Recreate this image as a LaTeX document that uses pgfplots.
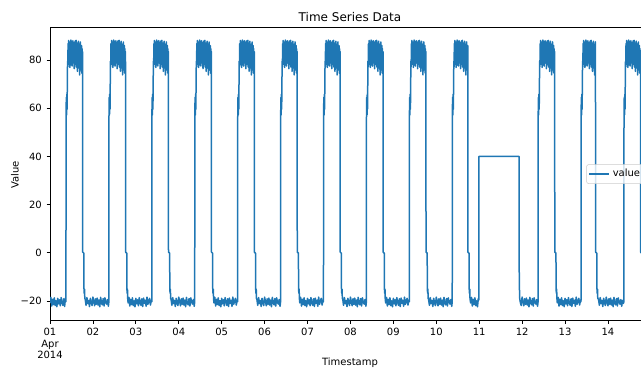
\documentclass[border=0pt]{standalone}
\usepackage{fontspec}
\setmainfont{DejaVu Sans}
\usepackage{pgfplots}
\pgfplotsset{compat=1.18}
\definecolor{c0}{RGB}{31,119,180}
\begin{document}
\begin{tikzpicture}
\begin{axis}[
  at={(0,0)}, anchor=south west,
  scale only axis, width=450pt, height=219.75pt,
  xmin=0, xmax=13.98, ymin=-27.9, ymax=93.7,
  axis line style={line width=0.6pt},
  tick align=outside, major tick length=2.625pt,
  every tick/.style={black, line width=0.6pt},
  xtick pos=bottom, ytick pos=left,
  xtick={0,1,2,3,4,5,6,7,8,9,10,11,12,13},
  xticklabels={{01\\Apr\\2014},02,03,04,05,06,07,08,09,10,11,12,13,14},
  xticklabel style={align=center, font=\fontsize{7.5}{8.6}\selectfont},
  ytick={-20,0,20,40,60,80},
  yticklabels={−20,0,20,40,60,80},
  yticklabel style={font=\fontsize{7.5}{9}\selectfont},
  title={Time Series Data},
  title style={font=\fontsize{9}{11}\selectfont, yshift=-5.25pt},
  xlabel={Timestamp},
  xlabel style={at={(axis description cs:0.5,-0.1468)}, anchor=center, font=\fontsize{7.5}{9}\selectfont},
  ylabel={Value},
  ylabel style={at={(axis description cs:-0.0583,0.495)}, anchor=center, font=\fontsize{7.5}{9}\selectfont},
  legend style={at={(axis description cs:0.9917,0.498)}, anchor=east, draw=black!20, rounded corners=1.5pt, fill=white, fill opacity=0.8, text opacity=1, font=\fontsize{7.5}{9}\selectfont, inner sep=1.5pt},
  legend image code/.code={\draw[#1] (0pt,0pt) -- (15pt,0pt);},
]
\addplot[c0, line width=1.125pt, line join=round, mark=none] coordinates {
(0,-20.8)(0.02,-18.5)(0.04,-22.1)(0.06,-19.3)(0.08,-21.5)(0.10,-18.7)(0.12,-21.9)(0.14,-19.9)(0.16,-22.4)(0.18,-18.9)(0.20,-21.2)(0.22,-19.5)(0.24,-22.0)(0.26,-18.6)(0.28,-20.6)(0.30,-21.8)(0.32,-19.1)(0.34,-22.3)(0.36,-18.8)
(0.372,-20.3)(0.374,56.0)(0.380,64.5)(0.386,57.2)(0.392,65.8)(0.398,59.6)(0.404,70.5)(0.409,79.5)
(0.415,77.2)(0.421,86.8)(0.428,79.5)(0.434,88.1)(0.440,78.3)(0.446,85.9)(0.453,80.7)(0.459,87.4)(0.465,76.9)(0.471,86.2)(0.478,79.8)(0.484,88.3)(0.490,78.0)(0.496,85.4)(0.503,81.2)(0.509,87.7)(0.515,77.5)(0.521,86.5)(0.528,79.1)(0.534,88.0)(0.540,80.3)(0.546,85.1)(0.553,78.6)(0.559,87.2)(0.565,76.4)(0.571,86.9)(0.578,80.9)(0.584,87.9)(0.590,78.2)(0.596,85.7)(0.603,79.4)(0.609,88.2)(0.615,77.1)(0.621,86.3)(0.628,80.1)(0.634,87.0)(0.640,75.3)(0.646,85.6)(0.653,78.8)(0.659,87.8)(0.665,76.7)(0.671,86.1)(0.678,79.9)(0.684,84.9)(0.690,73.8)(0.696,86.7)(0.703,78.5)(0.709,87.5)(0.715,75.9)(0.721,85.3)(0.728,77.6)(0.734,86.0)(0.740,74.6)(0.746,84.7)(0.753,78.1)(0.759,83.5)
(0.761,0.3)(0.789,-0.2)(0.791,-14.6)(0.798,-16.8)(0.805,-15.1)(0.811,-19.0)
(0.82,-19.2)(0.84,-21.8)(0.86,-18.6)(0.88,-21.1)(0.90,-19.8)(0.92,-22.3)(0.94,-18.9)(0.96,-20.7)(0.98,-21.9)(1.00,-18.4)(1.02,-20.2)(1.04,-22.0)(1.06,-19.1)(1.08,-21.4)(1.10,-18.8)(1.12,-21.7)(1.14,-19.6)(1.16,-22.4)(1.18,-18.5)(1.20,-20.9)(1.22,-21.6)(1.24,-19.0)(1.26,-22.1)(1.28,-18.7)(1.30,-20.5)(1.32,-21.3)(1.34,-19.4)(1.36,-22.2)
(1.372,-20.3)(1.374,56.0)(1.380,64.5)(1.386,57.2)(1.392,65.8)(1.398,59.6)(1.404,70.5)(1.409,79.5)
(1.415,77.2)(1.421,86.8)(1.428,79.5)(1.434,88.1)(1.440,78.3)(1.446,85.9)(1.453,80.7)(1.459,87.4)(1.465,76.9)(1.471,86.2)(1.478,79.8)(1.484,88.3)(1.490,78.0)(1.496,85.4)(1.503,81.2)(1.509,87.7)(1.515,77.5)(1.521,86.5)(1.528,79.1)(1.534,88.0)(1.540,80.3)(1.546,85.1)(1.553,78.6)(1.559,87.2)(1.565,76.4)(1.571,86.9)(1.578,80.9)(1.584,87.9)(1.590,78.2)(1.596,85.7)(1.603,79.4)(1.609,88.2)(1.615,77.1)(1.621,86.3)(1.628,80.1)(1.634,87.0)(1.640,75.3)(1.646,85.6)(1.653,78.8)(1.659,87.8)(1.665,76.7)(1.671,86.1)(1.678,79.9)(1.684,84.9)(1.690,73.8)(1.696,86.7)(1.703,78.5)(1.709,87.5)(1.715,75.9)(1.721,85.3)(1.728,77.6)(1.734,86.0)(1.740,74.6)(1.746,84.7)(1.753,78.1)(1.759,83.5)
(1.761,0.3)(1.789,-0.2)(1.791,-14.6)(1.798,-16.8)(1.805,-15.1)(1.811,-19.0)
(1.82,-20.8)(1.84,-18.5)(1.86,-22.1)(1.88,-19.3)(1.90,-21.5)(1.92,-18.7)(1.94,-21.9)(1.96,-19.9)(1.98,-22.4)(2.00,-18.9)(2.02,-21.2)(2.04,-19.5)(2.06,-22.0)(2.08,-18.6)(2.10,-20.6)(2.12,-21.8)(2.14,-19.1)(2.16,-22.3)(2.18,-18.8)(2.20,-21.0)(2.22,-19.7)(2.24,-22.2)(2.26,-18.4)(2.28,-21.4)(2.30,-20.1)(2.32,-18.9)(2.34,-21.7)(2.36,-19.6)
(2.372,-20.3)(2.374,56.0)(2.380,64.5)(2.386,57.2)(2.392,65.8)(2.398,59.6)(2.404,70.5)(2.409,79.5)
(2.415,77.2)(2.421,86.8)(2.428,79.5)(2.434,88.1)(2.440,78.3)(2.446,85.9)(2.453,80.7)(2.459,87.4)(2.465,76.9)(2.471,86.2)(2.478,79.8)(2.484,88.3)(2.490,78.0)(2.496,85.4)(2.503,81.2)(2.509,87.7)(2.515,77.5)(2.521,86.5)(2.528,79.1)(2.534,88.0)(2.540,80.3)(2.546,85.1)(2.553,78.6)(2.559,87.2)(2.565,76.4)(2.571,86.9)(2.578,80.9)(2.584,87.9)(2.590,78.2)(2.596,85.7)(2.603,79.4)(2.609,88.2)(2.615,77.1)(2.621,86.3)(2.628,80.1)(2.634,87.0)(2.640,75.3)(2.646,85.6)(2.653,78.8)(2.659,87.8)(2.665,76.7)(2.671,86.1)(2.678,79.9)(2.684,84.9)(2.690,73.8)(2.696,86.7)(2.703,78.5)(2.709,87.5)(2.715,75.9)(2.721,85.3)(2.728,77.6)(2.734,86.0)(2.740,74.6)(2.746,84.7)(2.753,78.1)(2.759,83.5)
(2.761,0.3)(2.789,-0.2)(2.791,-14.6)(2.798,-16.8)(2.805,-15.1)(2.811,-19.0)
(2.82,-19.2)(2.84,-21.8)(2.86,-18.6)(2.88,-21.1)(2.90,-19.8)(2.92,-22.3)(2.94,-18.9)(2.96,-20.7)(2.98,-21.9)(3.00,-18.4)(3.02,-20.2)(3.04,-22.0)(3.06,-19.1)(3.08,-21.4)(3.10,-18.8)(3.12,-21.7)(3.14,-19.6)(3.16,-22.4)(3.18,-18.5)(3.20,-20.9)(3.22,-21.6)(3.24,-19.0)(3.26,-22.1)(3.28,-18.7)(3.30,-20.5)(3.32,-21.3)(3.34,-19.4)(3.36,-22.2)
(3.372,-20.3)(3.374,56.0)(3.380,64.5)(3.386,57.2)(3.392,65.8)(3.398,59.6)(3.404,70.5)(3.409,79.5)
(3.415,77.2)(3.421,86.8)(3.428,79.5)(3.434,88.1)(3.440,78.3)(3.446,85.9)(3.453,80.7)(3.459,87.4)(3.465,76.9)(3.471,86.2)(3.478,79.8)(3.484,88.3)(3.490,78.0)(3.496,85.4)(3.503,81.2)(3.509,87.7)(3.515,77.5)(3.521,86.5)(3.528,79.1)(3.534,88.0)(3.540,80.3)(3.546,85.1)(3.553,78.6)(3.559,87.2)(3.565,76.4)(3.571,86.9)(3.578,80.9)(3.584,87.9)(3.590,78.2)(3.596,85.7)(3.603,79.4)(3.609,88.2)(3.615,77.1)(3.621,86.3)(3.628,80.1)(3.634,87.0)(3.640,75.3)(3.646,85.6)(3.653,78.8)(3.659,87.8)(3.665,76.7)(3.671,86.1)(3.678,79.9)(3.684,84.9)(3.690,73.8)(3.696,86.7)(3.703,78.5)(3.709,87.5)(3.715,75.9)(3.721,85.3)(3.728,77.6)(3.734,86.0)(3.740,74.6)(3.746,84.7)(3.753,78.1)(3.759,83.5)
(3.761,0.3)(3.789,-0.2)(3.791,-14.6)(3.798,-16.8)(3.805,-15.1)(3.811,-19.0)
(3.82,-20.8)(3.84,-18.5)(3.86,-22.1)(3.88,-19.3)(3.90,-21.5)(3.92,-18.7)(3.94,-21.9)(3.96,-19.9)(3.98,-22.4)(4.00,-18.9)(4.02,-21.2)(4.04,-19.5)(4.06,-22.0)(4.08,-18.6)(4.10,-20.6)(4.12,-21.8)(4.14,-19.1)(4.16,-22.3)(4.18,-18.8)(4.20,-21.0)(4.22,-19.7)(4.24,-22.2)(4.26,-18.4)(4.28,-21.4)(4.30,-20.1)(4.32,-18.9)(4.34,-21.7)(4.36,-19.6)
(4.372,-20.3)(4.374,56.0)(4.380,64.5)(4.386,57.2)(4.392,65.8)(4.398,59.6)(4.404,70.5)(4.409,79.5)
(4.415,77.2)(4.421,86.8)(4.428,79.5)(4.434,88.1)(4.440,78.3)(4.446,85.9)(4.453,80.7)(4.459,87.4)(4.465,76.9)(4.471,86.2)(4.478,79.8)(4.484,88.3)(4.490,78.0)(4.496,85.4)(4.503,81.2)(4.509,87.7)(4.515,77.5)(4.521,86.5)(4.528,79.1)(4.534,88.0)(4.540,80.3)(4.546,85.1)(4.553,78.6)(4.559,87.2)(4.565,76.4)(4.571,86.9)(4.578,80.9)(4.584,87.9)(4.590,78.2)(4.596,85.7)(4.603,79.4)(4.609,88.2)(4.615,77.1)(4.621,86.3)(4.628,80.1)(4.634,87.0)(4.640,75.3)(4.646,85.6)(4.653,78.8)(4.659,87.8)(4.665,76.7)(4.671,86.1)(4.678,79.9)(4.684,84.9)(4.690,73.8)(4.696,86.7)(4.703,78.5)(4.709,87.5)(4.715,75.9)(4.721,85.3)(4.728,77.6)(4.734,86.0)(4.740,74.6)(4.746,84.7)(4.753,78.1)(4.759,83.5)
(4.761,0.3)(4.789,-0.2)(4.791,-14.6)(4.798,-16.8)(4.805,-15.1)(4.811,-19.0)
(4.82,-19.2)(4.84,-21.8)(4.86,-18.6)(4.88,-21.1)(4.90,-19.8)(4.92,-22.3)(4.94,-18.9)(4.96,-20.7)(4.98,-21.9)(5.00,-18.4)(5.02,-20.2)(5.04,-22.0)(5.06,-19.1)(5.08,-21.4)(5.10,-18.8)(5.12,-21.7)(5.14,-19.6)(5.16,-22.4)(5.18,-18.5)(5.20,-20.9)(5.22,-21.6)(5.24,-19.0)(5.26,-22.1)(5.28,-18.7)(5.30,-20.5)(5.32,-21.3)(5.34,-19.4)(5.36,-22.2)
(5.372,-20.3)(5.374,56.0)(5.380,64.5)(5.386,57.2)(5.392,65.8)(5.398,59.6)(5.404,70.5)(5.409,79.5)
(5.415,77.2)(5.421,86.8)(5.428,79.5)(5.434,88.1)(5.440,78.3)(5.446,85.9)(5.453,80.7)(5.459,87.4)(5.465,76.9)(5.471,86.2)(5.478,79.8)(5.484,88.3)(5.490,78.0)(5.496,85.4)(5.503,81.2)(5.509,87.7)(5.515,77.5)(5.521,86.5)(5.528,79.1)(5.534,88.0)(5.540,80.3)(5.546,85.1)(5.553,78.6)(5.559,87.2)(5.565,76.4)(5.571,86.9)(5.578,80.9)(5.584,87.9)(5.590,78.2)(5.596,85.7)(5.603,79.4)(5.609,88.2)(5.615,77.1)(5.621,86.3)(5.628,80.1)(5.634,87.0)(5.640,75.3)(5.646,85.6)(5.653,78.8)(5.659,87.8)(5.665,76.7)(5.671,86.1)(5.678,79.9)(5.684,84.9)(5.690,73.8)(5.696,86.7)(5.703,78.5)(5.709,87.5)(5.715,75.9)(5.721,85.3)(5.728,77.6)(5.734,86.0)(5.740,74.6)(5.746,84.7)(5.753,78.1)(5.759,83.5)
(5.761,0.3)(5.789,-0.2)(5.791,-14.6)(5.798,-16.8)(5.805,-15.1)(5.811,-19.0)
(5.82,-20.8)(5.84,-18.5)(5.86,-22.1)(5.88,-19.3)(5.90,-21.5)(5.92,-18.7)(5.94,-21.9)(5.96,-19.9)(5.98,-22.4)(6.00,-18.9)(6.02,-21.2)(6.04,-19.5)(6.06,-22.0)(6.08,-18.6)(6.10,-20.6)(6.12,-21.8)(6.14,-19.1)(6.16,-22.3)(6.18,-18.8)(6.20,-21.0)(6.22,-19.7)(6.24,-22.2)(6.26,-18.4)(6.28,-21.4)(6.30,-20.1)(6.32,-18.9)(6.34,-21.7)(6.36,-19.6)
(6.372,-20.3)(6.374,56.0)(6.380,64.5)(6.386,57.2)(6.392,65.8)(6.398,59.6)(6.404,70.5)(6.409,79.5)
(6.415,77.2)(6.421,86.8)(6.428,79.5)(6.434,88.1)(6.440,78.3)(6.446,85.9)(6.453,80.7)(6.459,87.4)(6.465,76.9)(6.471,86.2)(6.478,79.8)(6.484,88.3)(6.490,78.0)(6.496,85.4)(6.503,81.2)(6.509,87.7)(6.515,77.5)(6.521,86.5)(6.528,79.1)(6.534,88.0)(6.540,80.3)(6.546,85.1)(6.553,78.6)(6.559,87.2)(6.565,76.4)(6.571,86.9)(6.578,80.9)(6.584,87.9)(6.590,78.2)(6.596,85.7)(6.603,79.4)(6.609,88.2)(6.615,77.1)(6.621,86.3)(6.628,80.1)(6.634,87.0)(6.640,75.3)(6.646,85.6)(6.653,78.8)(6.659,87.8)(6.665,76.7)(6.671,86.1)(6.678,79.9)(6.684,84.9)(6.690,73.8)(6.696,86.7)(6.703,78.5)(6.709,87.5)(6.715,75.9)(6.721,85.3)(6.728,77.6)(6.734,86.0)(6.740,74.6)(6.746,84.7)(6.753,78.1)(6.759,83.5)
(6.761,0.3)(6.789,-0.2)(6.791,-14.6)(6.798,-16.8)(6.805,-15.1)(6.811,-19.0)
(6.82,-19.2)(6.84,-21.8)(6.86,-18.6)(6.88,-21.1)(6.90,-19.8)(6.92,-22.3)(6.94,-18.9)(6.96,-20.7)(6.98,-21.9)(7.00,-18.4)(7.02,-20.2)(7.04,-22.0)(7.06,-19.1)(7.08,-21.4)(7.10,-18.8)(7.12,-21.7)(7.14,-19.6)(7.16,-22.4)(7.18,-18.5)(7.20,-20.9)(7.22,-21.6)(7.24,-19.0)(7.26,-22.1)(7.28,-18.7)(7.30,-20.5)(7.32,-21.3)(7.34,-19.4)(7.36,-22.2)
(7.372,-20.3)(7.374,56.0)(7.380,64.5)(7.386,57.2)(7.392,65.8)(7.398,59.6)(7.404,70.5)(7.409,79.5)
(7.415,77.2)(7.421,86.8)(7.428,79.5)(7.434,88.1)(7.440,78.3)(7.446,85.9)(7.453,80.7)(7.459,87.4)(7.465,76.9)(7.471,86.2)(7.478,79.8)(7.484,88.3)(7.490,78.0)(7.496,85.4)(7.503,81.2)(7.509,87.7)(7.515,77.5)(7.521,86.5)(7.528,79.1)(7.534,88.0)(7.540,80.3)(7.546,85.1)(7.553,78.6)(7.559,87.2)(7.565,76.4)(7.571,86.9)(7.578,80.9)(7.584,87.9)(7.590,78.2)(7.596,85.7)(7.603,79.4)(7.609,88.2)(7.615,77.1)(7.621,86.3)(7.628,80.1)(7.634,87.0)(7.640,75.3)(7.646,85.6)(7.653,78.8)(7.659,87.8)(7.665,76.7)(7.671,86.1)(7.678,79.9)(7.684,84.9)(7.690,73.8)(7.696,86.7)(7.703,78.5)(7.709,87.5)(7.715,75.9)(7.721,85.3)(7.728,77.6)(7.734,86.0)(7.740,74.6)(7.746,84.7)(7.753,78.1)(7.759,83.5)
(7.761,0.3)(7.789,-0.2)(7.791,-14.6)(7.798,-16.8)(7.805,-15.1)(7.811,-19.0)
(7.82,-20.8)(7.84,-18.5)(7.86,-22.1)(7.88,-19.3)(7.90,-21.5)(7.92,-18.7)(7.94,-21.9)(7.96,-19.9)(7.98,-22.4)(8.00,-18.9)(8.02,-21.2)(8.04,-19.5)(8.06,-22.0)(8.08,-18.6)(8.10,-20.6)(8.12,-21.8)(8.14,-19.1)(8.16,-22.3)(8.18,-18.8)(8.20,-21.0)(8.22,-19.7)(8.24,-22.2)(8.26,-18.4)(8.28,-21.4)(8.30,-20.1)(8.32,-18.9)(8.34,-21.7)(8.36,-19.6)
(8.372,-20.3)(8.374,56.0)(8.380,64.5)(8.386,57.2)(8.392,65.8)(8.398,59.6)(8.404,70.5)(8.409,79.5)
(8.415,77.2)(8.421,86.8)(8.428,79.5)(8.434,88.1)(8.440,78.3)(8.446,85.9)(8.453,80.7)(8.459,87.4)(8.465,76.9)(8.471,86.2)(8.478,79.8)(8.484,88.3)(8.490,78.0)(8.496,85.4)(8.503,81.2)(8.509,87.7)(8.515,77.5)(8.521,86.5)(8.528,79.1)(8.534,88.0)(8.540,80.3)(8.546,85.1)(8.553,78.6)(8.559,87.2)(8.565,76.4)(8.571,86.9)(8.578,80.9)(8.584,87.9)(8.590,78.2)(8.596,85.7)(8.603,79.4)(8.609,88.2)(8.615,77.1)(8.621,86.3)(8.628,80.1)(8.634,87.0)(8.640,75.3)(8.646,85.6)(8.653,78.8)(8.659,87.8)(8.665,76.7)(8.671,86.1)(8.678,79.9)(8.684,84.9)(8.690,73.8)(8.696,86.7)(8.703,78.5)(8.709,87.5)(8.715,75.9)(8.721,85.3)(8.728,77.6)(8.734,86.0)(8.740,74.6)(8.746,84.7)(8.753,78.1)(8.759,83.5)
(8.761,0.3)(8.789,-0.2)(8.791,-14.6)(8.798,-16.8)(8.805,-15.1)(8.811,-19.0)
(8.82,-19.2)(8.84,-21.8)(8.86,-18.6)(8.88,-21.1)(8.90,-19.8)(8.92,-22.3)(8.94,-18.9)(8.96,-20.7)(8.98,-21.9)(9.00,-18.4)(9.02,-20.2)(9.04,-22.0)(9.06,-19.1)(9.08,-21.4)(9.10,-18.8)(9.12,-21.7)(9.14,-19.6)(9.16,-22.4)(9.18,-18.5)(9.20,-20.9)(9.22,-21.6)(9.24,-19.0)(9.26,-22.1)(9.28,-18.7)(9.30,-20.5)(9.32,-21.3)(9.34,-19.4)(9.36,-22.2)
(9.372,-20.3)(9.374,56.0)(9.380,64.5)(9.386,57.2)(9.392,65.8)(9.398,59.6)(9.404,70.5)(9.409,79.5)
(9.415,77.2)(9.421,86.8)(9.428,79.5)(9.434,88.1)(9.440,78.3)(9.446,85.9)(9.453,80.7)(9.459,87.4)(9.465,76.9)(9.471,86.2)(9.478,79.8)(9.484,88.3)(9.490,78.0)(9.496,85.4)(9.503,81.2)(9.509,87.7)(9.515,77.5)(9.521,86.5)(9.528,79.1)(9.534,88.0)(9.540,80.3)(9.546,85.1)(9.553,78.6)(9.559,87.2)(9.565,76.4)(9.571,86.9)(9.578,80.9)(9.584,87.9)(9.590,78.2)(9.596,85.7)(9.603,79.4)(9.609,88.2)(9.615,77.1)(9.621,86.3)(9.628,80.1)(9.634,87.0)(9.640,75.3)(9.646,85.6)(9.653,78.8)(9.659,87.8)(9.665,76.7)(9.671,86.1)(9.678,79.9)(9.684,84.9)(9.690,73.8)(9.696,86.7)(9.703,78.5)(9.709,87.5)(9.715,75.9)(9.721,85.3)(9.728,77.6)(9.734,86.0)
(9.736,0.3)(9.764,-0.2)(9.766,-14.6)(9.773,-16.8)(9.780,-15.1)(9.786,-19.0)
(9.80,-20.8)(9.82,-18.5)(9.84,-22.1)(9.86,-19.3)(9.88,-21.5)(9.90,-18.7)(9.92,-21.9)(9.94,-19.9)(9.96,-22.4)(9.98,-18.9)(9.99,-19.6)
(9.995,40)(10.93,40)(10.933,-8.1)(10.937,-8.4)(10.940,-18.5)
(10.96,-20.7)(10.98,-21.9)(11.00,-18.4)(11.02,-20.2)(11.04,-22.0)(11.06,-19.1)(11.08,-21.4)(11.10,-18.8)(11.12,-21.7)(11.14,-19.6)(11.16,-22.4)(11.18,-18.5)(11.20,-20.9)(11.22,-21.6)(11.24,-19.0)(11.26,-22.1)(11.28,-18.7)(11.30,-20.5)(11.32,-21.3)(11.34,-19.4)(11.36,-22.2)
(11.372,-20.3)(11.374,56.0)(11.380,64.5)(11.386,57.2)(11.392,65.8)(11.398,59.6)(11.404,70.5)(11.409,79.5)
(11.415,77.2)(11.421,86.8)(11.428,79.5)(11.434,88.1)(11.440,78.3)(11.446,85.9)(11.453,80.7)(11.459,87.4)(11.465,76.9)(11.471,86.2)(11.478,79.8)(11.484,88.3)(11.490,78.0)(11.496,85.4)(11.503,81.2)(11.509,87.7)(11.515,77.5)(11.521,86.5)(11.528,79.1)(11.534,88.0)(11.540,80.3)(11.546,85.1)(11.553,78.6)(11.559,87.2)(11.565,76.4)(11.571,86.9)(11.578,80.9)(11.584,87.9)(11.590,78.2)(11.596,85.7)(11.603,79.4)(11.609,88.2)(11.615,77.1)(11.621,86.3)(11.628,80.1)(11.634,87.0)(11.640,75.3)(11.646,85.6)(11.653,78.8)(11.659,87.8)(11.665,76.7)(11.671,86.1)(11.678,79.9)(11.684,84.9)(11.690,73.8)(11.696,86.7)(11.703,78.5)(11.709,87.5)(11.715,75.9)(11.721,85.3)(11.728,77.6)(11.734,86.0)(11.740,74.6)(11.746,84.7)(11.753,78.1)(11.759,83.5)
(11.761,0.3)(11.789,-0.2)(11.791,-14.6)(11.798,-16.8)(11.805,-15.1)(11.811,-19.0)
(11.82,-20.8)(11.84,-18.5)(11.86,-22.1)(11.88,-19.3)(11.90,-21.5)(11.92,-18.7)(11.94,-21.9)(11.96,-19.9)(11.98,-22.4)(12.00,-18.9)(12.02,-21.2)(12.04,-19.5)(12.06,-22.0)(12.08,-18.6)(12.10,-20.6)(12.12,-21.8)(12.14,-19.1)(12.16,-22.3)(12.18,-18.8)(12.20,-21.0)(12.22,-19.7)(12.24,-22.2)(12.26,-18.4)(12.28,-21.4)(12.30,-20.1)(12.32,-18.9)(12.34,-21.7)(12.36,-19.6)
(12.372,-20.3)(12.374,56.0)(12.380,64.5)(12.386,57.2)(12.392,65.8)(12.398,59.6)(12.404,70.5)(12.409,79.5)
(12.415,77.2)(12.421,86.8)(12.428,79.5)(12.434,88.1)(12.440,78.3)(12.446,85.9)(12.453,80.7)(12.459,87.4)(12.465,76.9)(12.471,86.2)(12.478,79.8)(12.484,88.3)(12.490,78.0)(12.496,85.4)(12.503,81.2)(12.509,87.7)(12.515,77.5)(12.521,86.5)(12.528,79.1)(12.534,88.0)(12.540,80.3)(12.546,85.1)(12.553,78.6)(12.559,87.2)(12.565,76.4)(12.571,86.9)(12.578,80.9)(12.584,87.9)(12.590,78.2)(12.596,85.7)(12.603,79.4)(12.609,88.2)(12.615,77.1)(12.621,86.3)(12.628,80.1)(12.634,87.0)(12.640,75.3)(12.646,85.6)(12.653,78.8)(12.659,87.8)(12.665,76.7)(12.671,86.1)(12.678,79.9)(12.684,84.9)(12.690,73.8)(12.696,86.7)(12.703,78.5)(12.709,87.5)
(12.712,0.3)(12.741,-0.2)(12.743,-14.6)(12.750,-16.8)(12.757,-15.1)(12.763,-19.0)
(12.78,-19.2)(12.80,-21.8)(12.82,-18.6)(12.84,-21.1)(12.86,-19.8)(12.88,-22.3)(12.90,-18.9)(12.92,-20.7)(12.94,-21.9)(12.96,-18.4)(12.98,-20.2)(13.00,-22.0)(13.02,-19.1)(13.04,-21.4)(13.06,-18.8)(13.08,-21.7)(13.10,-19.6)(13.12,-22.4)(13.14,-18.5)(13.16,-20.9)(13.18,-21.6)(13.20,-19.0)(13.22,-22.1)(13.24,-18.7)(13.26,-20.5)(13.28,-21.3)(13.30,-19.4)(13.32,-22.2)(13.34,-19.8)(13.36,-21.0)
(13.372,-20.3)(13.374,56.0)(13.380,64.5)(13.386,57.2)(13.392,65.8)(13.398,59.6)(13.404,70.5)(13.409,79.5)
(13.415,77.2)(13.421,86.8)(13.428,79.5)(13.434,88.1)(13.440,78.3)(13.446,85.9)(13.453,80.7)(13.459,87.4)(13.465,76.9)(13.471,86.2)(13.478,79.8)(13.484,88.3)(13.490,78.0)(13.496,85.4)(13.503,81.2)(13.509,87.7)(13.515,77.5)(13.521,86.5)(13.528,79.1)(13.534,88.0)(13.540,80.3)(13.546,85.1)(13.553,78.6)(13.559,87.2)(13.565,76.4)(13.571,86.9)(13.578,80.9)(13.584,87.9)(13.590,78.2)(13.596,85.7)(13.603,79.4)(13.609,88.2)(13.615,77.1)(13.621,86.3)(13.628,80.1)(13.634,87.0)(13.640,75.3)(13.646,85.6)(13.653,78.8)(13.659,87.8)(13.665,76.7)(13.671,86.1)(13.678,79.9)(13.684,84.9)(13.690,73.8)(13.696,86.7)(13.703,78.5)(13.709,87.5)(13.715,75.9)(13.721,85.3)(13.728,77.6)(13.734,86.0)(13.740,74.6)(13.746,84.7)(13.753,78.1)(13.759,83.5)
(13.761,0.3)(13.789,-0.2)(13.791,-14.6)(13.798,-16.8)(13.805,-15.1)(13.811,-19.0)
(13.82,-20.8)(13.84,-18.5)(13.86,-22.1)(13.88,-19.3)(13.90,-21.5)(13.92,-18.7)(13.94,-21.9)(13.96,-19.9)(13.98,-22.4)
};
\addlegendentry{value}
\end{axis}
\pgfresetboundingbox
\useasboundingbox (-37.5pt,-36pt) rectangle (443.25pt,240pt);
\end{tikzpicture}
\end{document}
